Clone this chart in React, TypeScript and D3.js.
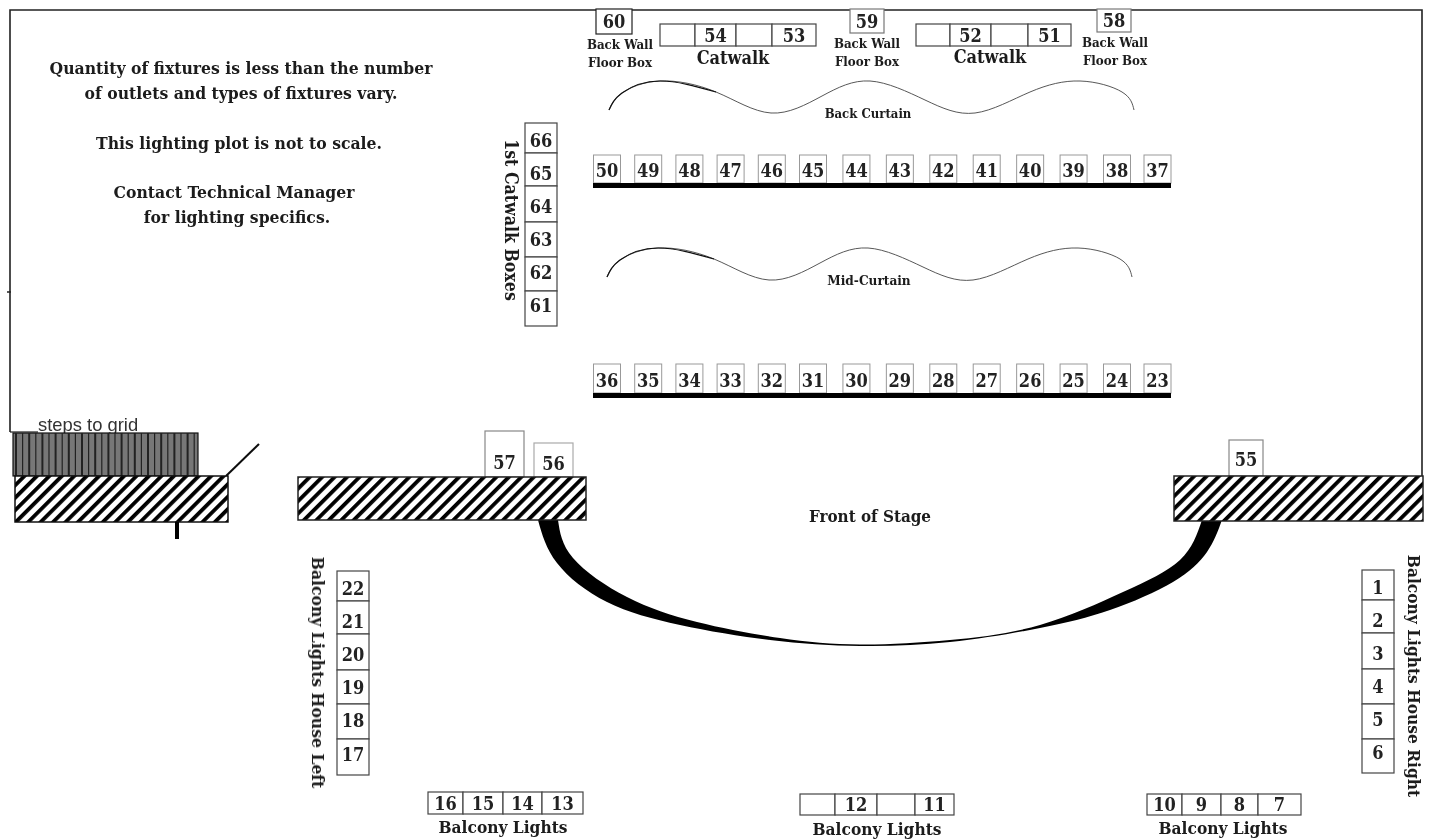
import React from "react";
import * as d3 from "d3";

const W = 1430, H = 839;

// outlet groups (blank strings are empty outlets)
const backRow = ["50","49","48","47","46","45","44","43","42","41","40","39","38","37"];
const frontRow = ["36","35","34","33","32","31","30","29","28","27","26","25","24","23"];
const catwalkBoxes = ["66","65","64","63","62","61"];
const houseLeft = ["22","21","20","19","18","17"];
const houseRight = ["1","2","3","4","5","6"];
const balconyA = ["16","15","14","13"];
const balconyB = ["","12","","11"];
const balconyC = ["10","9","8","7"];
const catwalkA = ["","54","","53"];
const catwalkB = ["","52","","51"];
const notes = [
  "Quantity of fixtures is less than the number",
  "of outlets and types of fixtures vary.",
  "",
  "This lighting plot is not to scale.",
  "",
  "Contact Technical Manager",
  "for lighting specifics.",
];

// layout scales
const noteY = d3.scaleLinear().domain([0, 6]).range([74, 223]);
const notesCx = [241, 241, 0, 239, 0, 234, 237];
const rowX = d3.scaleLinear().domain([0, 5, 12, 13]).range([607, 813, 1117, 1157.5]);
const catEdges = [123, 153, 186, 222, 257, 291, 326];
const leftEdges = [571, 601, 634, 670, 704, 739, 775];
const rightEdges = [570, 600, 633, 669, 704, 739, 773];
const colText = d3.scaleLinear().domain([0, 5]);
const edgesA = [428, 463, 503, 542, 583];
const edgesB = [800, 835, 877, 915, 954];
const edgesC = [1147, 1182, 1221, 1258, 1301];
const edgesCatA = [660, 695, 736, 772, 816];
const edgesCatB = [916, 950, 991, 1028, 1071];

// curtain outline
const curtainX = [609, 622, 660, 716, 771, 822, 870, 925, 975, 1030, 1080, 1122, 1134];
const curtainY = [110, 93, 81, 92, 113, 96, 81, 100, 113, 92, 81, 92, 110];
const curtainLine = d3.line<number>().x((d) => curtainX[d]).y((d) => curtainY[d]).curve(d3.curveNatural);
const curtainD = curtainLine(curtainX.map((_, i) => i)) as string;
const curtainHeadD = curtainLine(d3.range(0, 4)) as string;

// orchestra-edge crescent
const outerX = [538, 557, 607, 680, 770, 860, 950, 1040, 1110, 1173, 1207, 1222];
const outerY = [520, 563, 602, 625, 640, 646, 642, 628, 610, 582, 552, 520];
const innerX = [558, 573, 627, 697, 780, 860, 950, 1040, 1123, 1180, 1202];
const innerY = [520, 558, 597, 622, 638, 644.5, 640, 625, 592, 560, 520];
const pts = (xs: number[], ys: number[]) => xs.map((x, i) => [x, ys[i]] as [number, number]);
const smooth = d3.line().curve(d3.curveNatural);
const crescentD = `${smooth(pts(outerX, outerY))} L${smooth(pts(innerX, innerY).reverse())!.slice(1)} Z`;

const stepRungs = d3.range(16, 198, 6.6);

const serifBase = { fontFamily: "'DejaVu Serif'", fontWeight: 700, fontStretch: "condensed", fill: "#1a1a1a" } as const;
const num = { ...serifBase, fontSize: 18, fill: "#222" } as const;

function Box({ x, y, w, h, t, stroke = "#444", textX, textY, sw = 1.2 }: any) {
  return (
    <g>
      <rect x={x} y={y} width={w} height={h} fill="#fff" stroke={stroke} strokeWidth={sw} />
      {t ? (
        <text x={textX ?? x + w / 2} y={(textY ?? y + h / 2) + 6.5} textAnchor="middle" {...num}>{t}</text>
      ) : null}
    </g>
  );
}

function HStrip({ items, edges, y, h }: any) {
  return (
    <g>
      {items.map((t: string, i: number) => (
        <Box key={i} x={edges[i]} y={y} w={edges[i + 1] - edges[i]} h={h} t={t} />
      ))}
    </g>
  );
}

function VStrip({ items, edges, x, w, text0, text5 }: any) {
  const ty = colText.copy().range([text0, text5]);
  return (
    <g>
      {items.map((t: string, i: number) => (
        <Box key={t} x={x} y={edges[i]} w={w} h={edges[i + 1] - edges[i]} t={t} textY={ty(i)} />
      ))}
    </g>
  );
}

function TwoLine({ cx, y }: any) {
  return (
    <text textAnchor="middle" {...serifBase} fontSize={13.2}>
      <tspan x={cx} y={y}>Back Wall</tspan>
      <tspan x={cx} y={y + 18}>Floor Box</tspan>
    </text>
  );
}

export default function App() {
  return (
    <svg width={W} height={H} style={{ position: "absolute", left: 0, top: 0, background: "#fff" }}>
      <defs>
        <pattern id="hatch" width="8.8" height="8.8" patternUnits="userSpaceOnUse" patternTransform="rotate(45)">
          <rect width="8.8" height="8.8" fill="#fff" />
          <rect width="3.8" height="8.8" fill="#000" />
        </pattern>
        <filter id="soft" x="-2%" y="-2%" width="104%" height="104%">
          <feGaussianBlur stdDeviation="0.55" />
        </filter>
      </defs>
      <g filter="url(#soft)">
        {/* wall outline */}
        <path d="M10,432 L10,10 L1422,10 L1422,476" fill="none" stroke="#222" strokeWidth={1.6} />
        <line x1={7} x2={11} y1={292} y2={292} stroke="#222" strokeWidth={1.5} />

        {/* notes */}
        {notes.map((t, i) => t ? (
          <text key={i} x={notesCx[i]} y={noteY(i)} textAnchor="middle" {...serifBase} fontSize={17.4}>{t}</text>
        ) : null)}

        {/* top boxes */}
        <Box x={596} y={9} w={36} h={25} t="60" stroke="#222" />
        <Box x={850} y={9} w={34} h={24} t="59" stroke="#777" />
        <Box x={1097} y={9} w={34} h={23} t="58" stroke="#777" />
        <HStrip items={catwalkA} edges={edgesCatA} y={24} h={22} />
        <HStrip items={catwalkB} edges={edgesCatB} y={24} h={22} />
        <TwoLine cx={620} y={49} />
        <TwoLine cx={867} y={48} />
        <TwoLine cx={1115} y={47} />
        <text x={733} y={64} textAnchor="middle" {...serifBase} fontSize={18}>Catwalk</text>
        <text x={990} y={63} textAnchor="middle" {...serifBase} fontSize={18}>Catwalk</text>

        {/* curtains */}
        <path d={curtainD} fill="none" stroke="#444" strokeWidth={0.9} />
        <path d={curtainHeadD} fill="none" stroke="#111" strokeWidth={1.2} />
        <text x={868} y={118} textAnchor="middle" {...serifBase} fontSize={13}>Back Curtain</text>
        <g transform="translate(-2,167)">
          <path d={curtainD} fill="none" stroke="#444" strokeWidth={0.9} />
          <path d={curtainHeadD} fill="none" stroke="#111" strokeWidth={1.2} />
        </g>
        <text x={869} y={285} textAnchor="middle" {...serifBase} fontSize={13.5}>Mid-Curtain</text>

        {/* 1st catwalk */}
        <VStrip items={catwalkBoxes} edges={catEdges} x={525} w={32} text0={140} text5={305} />
        <text transform="translate(505,220) rotate(90)" textAnchor="middle" {...serifBase} fontSize={17.6}>1st Catwalk Boxes</text>

        {/* electrics */}
        {backRow.map((t, i) => <Box key={t} x={rowX(i) - 13.5} y={155} w={27} h={28} t={t} stroke="#999" sw={1} textY={170} />)}
        <rect x={593} y={183} width={578} height={5} fill="#000" />
        {frontRow.map((t, i) => <Box key={t} x={rowX(i) - 13.5} y={364} w={27} h={29} t={t} stroke="#999" sw={1} textY={380} />)}
        <rect x={593} y={393} width={578} height={5} fill="#000" />

        {/* steps */}
        <text x={38} y={431} fontFamily="'Liberation Sans'" fontSize={18.4} fill="#333">steps to grid</text>
        <path d="M10,432 L38,432" stroke="#222" strokeWidth={1.2} />
        <rect x={13} y={433} width={185} height={43} fill="#777" stroke="#111" strokeWidth={1.2} />
        {stepRungs.map((x, i) => <line key={x} x1={x} x2={x} y1={433} y2={476} stroke="#222" strokeWidth={i % 2 ? 1.2 : 2} />)}
        <line x1={226} y1={476} x2={259} y2={444} stroke="#111" strokeWidth={2} />
        <rect x={15} y={476} width={213} height={46} fill="url(#hatch)" stroke="#111" strokeWidth={1.5} />
        <rect x={175} y={522} width={4} height={17} fill="#000" />

        {/* proscenium */}
        <Box x={485} y={431} w={39} h={46} t="57" stroke="#888" textY={462} />
        <Box x={534} y={443} w={39} h={34} t="56" stroke="#aaa" textY={463} />
        <Box x={1229} y={440} w={34} h={36} t="55" stroke="#888" textY={459} />
        <path d={crescentD} fill="#000" />
        <rect x={298} y={477} width={288} height={43} fill="url(#hatch)" stroke="#222" strokeWidth={1.5} />
        <rect x={1174} y={476} width={249} height={45} fill="url(#hatch)" stroke="#222" strokeWidth={1.5} />
        <text x={870} y={522} textAnchor="middle" {...serifBase} fontSize={16.9}>Front of Stage</text>

        {/* house */}
        <VStrip items={houseLeft} edges={leftEdges} x={337} w={32} text0={588} text5={754} />
        <text transform="translate(312,672.5) rotate(90)" textAnchor="middle" {...serifBase} fontSize={17.4}>Balcony Lights House Left</text>
        <VStrip items={houseRight} edges={rightEdges} x={1362} w={32} text0={587} text5={752} />
        <text transform="translate(1408,676) rotate(90)" textAnchor="middle" {...serifBase} fontSize={17.2}>Balcony Lights House Right</text>

        {/* balcony */}
        <HStrip items={balconyA} edges={edgesA} y={792} h={22} />
        <HStrip items={balconyB} edges={edgesB} y={794} h={21} />
        <HStrip items={balconyC} edges={edgesC} y={794} h={21} />
        <text x={503} y={833} textAnchor="middle" {...serifBase} fontSize={17.2}>Balcony Lights</text>
        <text x={877} y={835} textAnchor="middle" {...serifBase} fontSize={17.2}>Balcony Lights</text>
        <text x={1223} y={834} textAnchor="middle" {...serifBase} fontSize={17.2}>Balcony Lights</text>
      </g>
    </svg>
  );
}
